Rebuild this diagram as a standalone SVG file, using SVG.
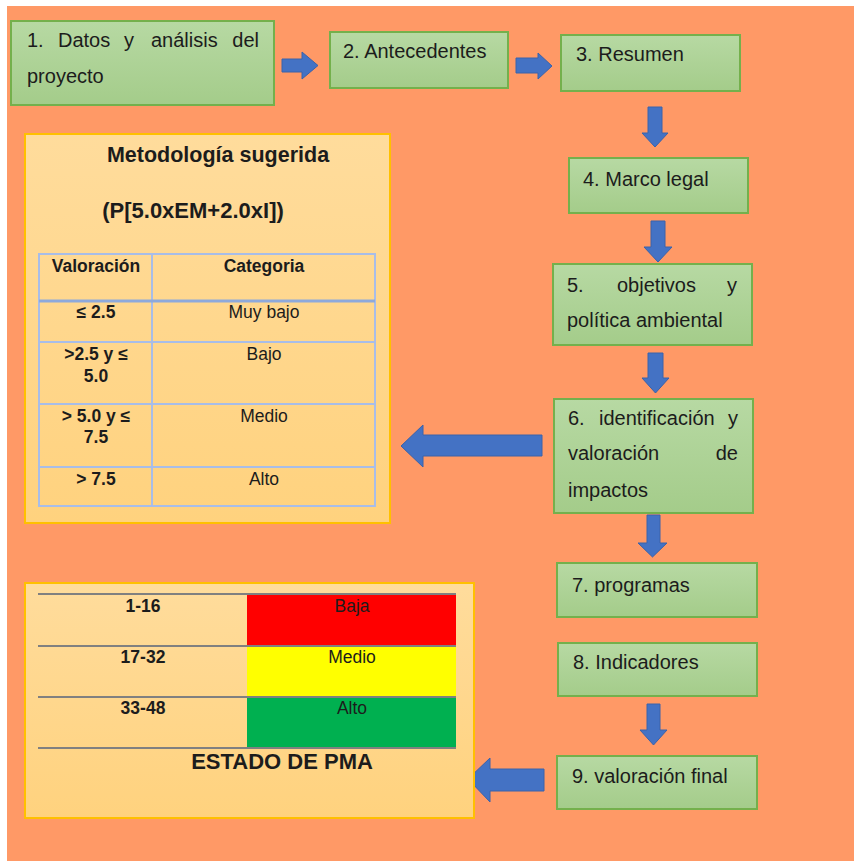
<svg xmlns="http://www.w3.org/2000/svg" width="854" height="861" viewBox="0 0 854 861">
<defs>
<linearGradient id="gGreen" x1="0" y1="0" x2="0" y2="1">
<stop offset="0" stop-color="#B7D9A3"/>
<stop offset="1" stop-color="#A4CC8A"/>
</linearGradient>
<linearGradient id="gPanel" x1="0" y1="0" x2="0" y2="1">
<stop offset="0" stop-color="#FFDC9C"/>
<stop offset="1" stop-color="#FFD27E"/>
</linearGradient>
<style>
.bx{fill:url(#gGreen);stroke:#74B04C;stroke-width:2}
.pn{fill:url(#gPanel);stroke:#FFC000;stroke-width:2}
.t{font-family:"Liberation Sans",Arial,sans-serif;font-size:20px;fill:#1c1c1c}
.tb{font-family:"Liberation Sans",Arial,sans-serif;font-weight:bold;fill:#1c1c1c}
.tr{font-family:"Liberation Sans",Arial,sans-serif;fill:#1c1c1c}
.ar{fill:#4472C4;stroke:#3A62AA;stroke-width:1}
.tl{stroke:#A8BDE8;stroke-width:2;fill:none}
.gl{stroke:#808080;stroke-width:2;fill:none}
</style>
</defs>
<rect x="7" y="6" width="847" height="855" fill="#FF9966"/>

<g id="connectors">
<polygon class="ar" points="282,59 302,59 302,52 318,65.5 302,79 302,72 282,72"/>
<polygon class="ar" points="516,58 538,58 538,53 552,66 538,79 538,73 516,73"/>
<polygon class="ar" points="648,107 662,107 662,133 668,133 655,147 642,133 648,133"/>
<polygon class="ar" points="651,221 665,221 665,247 672,247 658,262 644,247 651,247"/>
<polygon class="ar" points="648,353 663,353 663,378 669,378 655.5,393 642,378 648,378"/>
<polygon class="ar" points="542,435 423,435 423,425 401,446 423,467 423,456 542,456"/>
<polygon class="ar" points="647,515 660,515 660,543 667,543 652.5,557 638,543 647,543"/>
<polygon class="ar" points="647,704 660,704 660,730 667,730 653.5,745 640,730 647,730"/>
<polygon class="ar" points="544,769 490,769 490,758 468,779 490,802 490,791 544,791"/>
</g>

<g id="n1">
<rect class="bx" x="11" y="21" width="263" height="84"/>
<text class="t" x="27" y="47">1.</text>
<text class="t" x="58" y="47">Datos</text>
<text class="t" x="124" y="47">y</text>
<text class="t" x="151" y="47">análisis</text>
<text class="t" x="259" y="47" text-anchor="end">del</text>
<text class="t" x="27" y="83">proyecto</text>
</g>
<g id="n2">
<rect class="bx" x="330" y="32" width="178" height="56"/>
<text class="t" x="343" y="58">2. Antecedentes</text>
</g>
<g id="n3">
<rect class="bx" x="561" y="35" width="179" height="56"/>
<text class="t" x="576" y="61">3. Resumen</text>
</g>
<g id="n4">
<rect class="bx" x="569" y="158" width="179" height="55"/>
<text class="t" x="583" y="186">4. Marco legal</text>
</g>
<g id="n5">
<rect class="bx" x="553" y="264" width="199" height="81"/>
<text class="t" x="567" y="292">5.</text>
<text class="t" x="617" y="292">objetivos</text>
<text class="t" x="737" y="292" text-anchor="end">y</text>
<text class="t" x="567" y="327">política ambiental</text>
</g>
<g id="n6">
<rect class="bx" x="554" y="399" width="199" height="114"/>
<text class="t" x="568" y="425">6.</text>
<text class="t" x="599" y="425">identificación</text>
<text class="t" x="738" y="425" text-anchor="end">y</text>
<text class="t" x="568" y="460">valoración</text>
<text class="t" x="738" y="460" text-anchor="end">de</text>
<text class="t" x="568" y="497">impactos</text>
</g>
<g id="n7">
<rect class="bx" x="557" y="563" width="200" height="54"/>
<text class="t" x="572" y="592">7. programas</text>
</g>
<g id="n8">
<rect class="bx" x="558" y="643" width="199" height="53"/>
<text class="t" x="573" y="669">8. Indicadores</text>
</g>
<g id="n9">
<rect class="bx" x="557" y="756" width="200" height="53"/>
<text class="t" x="572" y="783">9. valoración final</text>
</g>

<g id="metodologia">
<rect class="pn" x="25" y="134" width="365" height="389"/>
<text class="tb" x="218" y="162" font-size="21.5" text-anchor="middle">Metodología sugerida</text>
<text class="tb" x="193" y="218" font-size="22" text-anchor="middle">(P[5.0xEM+2.0xI])</text>
<rect class="tl" x="39" y="254" width="336" height="252"/>
<line class="tl" x1="152" y1="254" x2="152" y2="506"/>
<line x1="39" y1="301" x2="375" y2="301" stroke="#8EA9DB" stroke-width="3"/>
<line class="tl" x1="39" y1="342" x2="375" y2="342"/>
<line class="tl" x1="39" y1="404" x2="375" y2="404"/>
<line class="tl" x1="39" y1="467" x2="375" y2="467"/>
<text class="tb" font-size="17.5" x="96" y="272" text-anchor="middle">Valoración</text>
<text class="tb" font-size="17.5" x="264" y="272" text-anchor="middle">Categoria</text>
<text class="tb" font-size="17.5" x="96" y="318" text-anchor="middle">≤ 2.5</text>
<text class="tr" font-size="17.5" x="264" y="318" text-anchor="middle">Muy bajo</text>
<text class="tb" font-size="17.5" x="96" y="360" text-anchor="middle">&gt;2.5 y ≤</text>
<text class="tb" font-size="17.5" x="96" y="382" text-anchor="middle">5.0</text>
<text class="tr" font-size="17.5" x="264" y="360" text-anchor="middle">Bajo</text>
<text class="tb" font-size="17.5" x="96" y="422" text-anchor="middle">&gt; 5.0 y ≤</text>
<text class="tb" font-size="17.5" x="96" y="443" text-anchor="middle">7.5</text>
<text class="tr" font-size="17.5" x="264" y="422" text-anchor="middle">Medio</text>
<text class="tb" font-size="17.5" x="96" y="485" text-anchor="middle">&gt; 7.5</text>
<text class="tr" font-size="17.5" x="264" y="485" text-anchor="middle">Alto</text>
</g>

<g id="estado-pma">
<rect class="pn" x="25" y="583" width="449" height="235"/>
<rect x="247" y="595" width="209" height="50" fill="#FF0000"/>
<rect x="247" y="647" width="209" height="49" fill="#FFFF00"/>
<rect x="247" y="698" width="209" height="49" fill="#00B050"/>
<line class="gl" x1="38" y1="594" x2="456" y2="594"/>
<line class="gl" x1="38" y1="646" x2="456" y2="646"/>
<line class="gl" x1="38" y1="697" x2="456" y2="697"/>
<line class="gl" x1="38" y1="748" x2="456" y2="748"/>
<text class="tb" font-size="17.5" x="143" y="612" text-anchor="middle">1-16</text>
<text class="tb" font-size="17.5" x="143" y="663" text-anchor="middle">17-32</text>
<text class="tb" font-size="17.5" x="143" y="714" text-anchor="middle">33-48</text>
<text class="tr" font-size="17.5" x="352" y="612" text-anchor="middle">Baja</text>
<text class="tr" font-size="17.5" x="352" y="663" text-anchor="middle">Medio</text>
<text class="tr" font-size="17.5" x="352" y="714" text-anchor="middle">Alto</text>
<text class="tb" font-size="22" x="282" y="769" text-anchor="middle">ESTADO DE PMA</text>
</g>
</svg>
